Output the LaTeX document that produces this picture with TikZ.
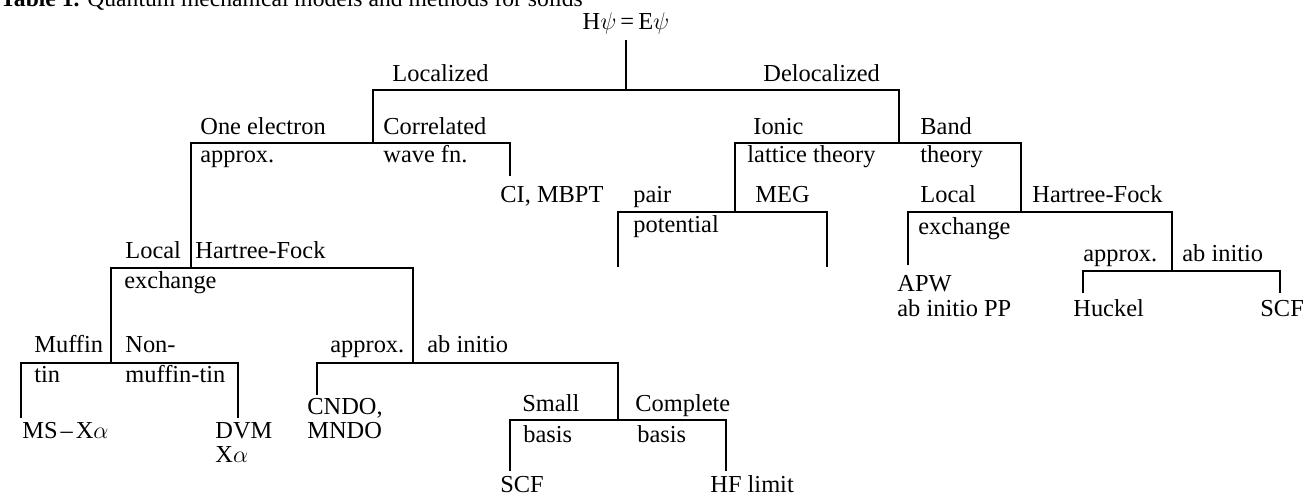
\documentclass[tikz,border=0pt]{standalone}
\usepackage{fontspec}
\setmainfont{Liberation Serif}
\usetikzlibrary{positioning}
\begin{document}
\begin{tikzpicture}[x=0.5pt, y=-0.5pt, font=\fontsize{12.2}{14.6}\selectfont,
  lab/.style={anchor=base west, inner sep=0pt},
  tree/.style={line width=0.8pt}]
\useasboundingbox (0,0) rectangle (1307,496);
\node[lab, font=\fontsize{11.8}{14}\selectfont] (cap) at (0,7) {\textbf{Table 1.} Quantum mechanical models and methods for solids};
\node[anchor=base, inner sep=0pt] (root) at (626,30) {H$\psi$\,=\,E$\psi$};
\coordinate (R) at (626,90);
\coordinate (L1) at (373,143);
\coordinate (D1) at (899,143);
\coordinate (ciend) at (510,176);
\coordinate (O1) at (191,268);
\coordinate (M1) at (111,363);
\coordinate (A1) at (413,363);
\coordinate (msend) at (21,418);
\coordinate (dvmend) at (238,418);
\coordinate (cndoend) at (317,395);
\coordinate (S1) at (618,420);
\coordinate (scfend) at (510,471);
\coordinate (hfend) at (726,471);
\coordinate (I1) at (735,212);
\coordinate (pairend) at (618,267);
\coordinate (megend) at (827,267);
\coordinate (B1) at (1021,212);
\coordinate (apwend) at (908,265);
\coordinate (H1) at (1172,271);
\coordinate (huckend) at (1083,293);
\coordinate (scfbend) at (1280,293);
\draw[tree] ([yshift=-2.5pt]root.south) -- (R);
\draw[tree] (L1) |- (R) -| (D1);
\draw[tree] (O1) |- (L1) -| (ciend);
\draw[tree] (M1) |- (O1) -| (A1);
\draw[tree] (msend) |- (M1) -| (dvmend);
\draw[tree] (cndoend) |- (A1) -| (S1);
\draw[tree] (scfend) |- (S1) -| (hfend);
\draw[tree] (I1) |- (D1) -| (B1);
\draw[tree] (pairend) |- (I1) -| (megend);
\draw[tree] (apwend) |- (B1) -| (H1);
\draw[tree] (huckend) |- (H1) -| (scfbend);
\foreach \n/\x/\y/\t in {loc/392/82/Localized, deloc/763/82/Delocalized,
  one/200/135/One electron, appa/200/163/approx., corr/383/135/Correlated, wave/383/163/wave fn.,
  ci/500/203/{CI, MBPT}, ionic/753/135/Ionic, latt/747/163/lattice theory, band/920/135/Band, theory/920/163/theory,
  local/125/259/Local, hf/195/259/Hartree-Fock, exch/124/289/exchange,
  muffin/34/353/Muffin, tin/34/383/tin, non/125/353/Non-, mtin/125/383/muffin-tin,
  ms/22/439/{MS\kern1.5pt\textendash\kern1.5pt X$\alpha$}, dvm/215/439/DVM, xa/215/463/{X$\alpha$},
  appb/330/353/approx., abia/427/353/ab initio, cndo/307/415/{CNDO,}, mndo/307/439/MNDO,
  small/522/412/Small, basisa/523/443/basis, compl/635/412/Complete, basisb/637/443/basis,
  scf/500/493/SCF, hflim/710/493/HF limit,
  pair/633/203/pair, meg/755/203/MEG, pot/633/233/potential,
  localb/920/203/Local, hfb/1032/203/Hartree-Fock, exchb/918/235/exchange,
  apw/897/292/APW, abpp/897/317/ab initio PP,
  appc/1083/262/approx., abib/1182/262/ab initio, huck/1073/317/Huckel, scfb/1260/317/SCF}
  \node[lab] (\n) at (\x,\y) {\t};
\end{tikzpicture}
\end{document}
